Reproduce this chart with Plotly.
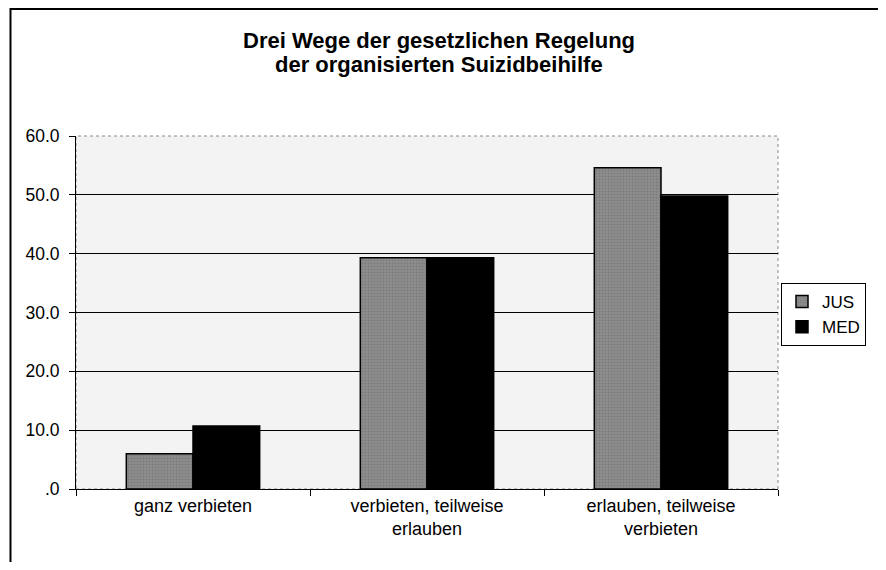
import plotly.graph_objects as go

categories = ["ganz verbieten", "verbieten, teilweise<br>erlauben", "erlauben, teilweise<br>verbieten"]
jus = [6.0, 39.3, 54.6]
med = [10.7, 39.3, 49.8]
y_ticks = [0, 10, 20, 30, 40, 50, 60]
y_labels = [".0", "10.0", "20.0", "30.0", "40.0", "50.0", "60.0"]
title_lines = ["Drei Wege der gesetzlichen Regelung", "der organisierten Suizidbeihilfe"]

# page body has an 8px margin, so the figure is drawn 8px smaller and offset
OFF = 8
W, H = 886 - 2 * OFF, 570 - 2 * OFF
L, T = 76 - OFF, 136 - OFF
pw, ph = 718, 353
R, B = W - L - pw, H - T - ph

font = "Liberation Sans, Arial, sans-serif"


def px_x(v):
    # screen px -> paper x
    return (v - OFF - L) / pw


def px_y(v):
    # screen px -> paper y
    return (H - B - (v - OFF)) / ph


fig = go.Figure()
fig.add_trace(go.Bar(x=categories, y=jus, name="JUS",
                     marker=dict(color="#8e8e8e", line=dict(color="black", width=1.5),
                                 pattern=dict(shape=".", fgcolor="#666666", size=3, solidity=0.3))))
fig.add_trace(go.Bar(x=categories, y=med, name="MED",
                     marker=dict(color="black", line=dict(color="black", width=1.5))))

# outer chart frame
fig.add_shape(type="rect", xref="paper", yref="paper",
              x0=px_x(9), x1=px_x(900), y0=px_y(590), y1=px_y(9),
              line=dict(color="black", width=2), layer="below")
# plot area border (dotted grey)
fig.add_shape(type="rect", xref="paper", yref="paper", x0=0, x1=1, y0=0, y1=1,
              line=dict(color="#888888", width=1, dash="dot"), layer="below")

for txt, ys in zip(title_lines, [40, 65]):
    fig.add_annotation(text="<b>" + txt + "</b>", xref="paper", yref="paper",
                       x=px_x(447), y=px_y(ys), xanchor="center", yanchor="middle",
                       showarrow=False, font=dict(family=font, size=22, color="black"))

fig.update_layout(
    width=W, height=H,
    margin=dict(l=L, r=R, t=T, b=B),
    paper_bgcolor="white",
    plot_bgcolor="#f3f3f3",
    barmode="group",
    bargap=0.43,
    bargroupgap=0,
    font=dict(family=font, size=18, color="black"),
    legend=dict(x=px_x(884), y=px_y(283), xanchor="right", yanchor="top",
                bordercolor="black", borderwidth=1, bgcolor="white",
                font=dict(family=font, size=17), itemwidth=30),
    xaxis=dict(showline=True, linecolor="black", linewidth=1,
               ticks="outside", tickson="boundaries", ticklen=6, tickcolor="black",
               showgrid=False, tickfont=dict(size=18)),
    yaxis=dict(range=[0, 60], tickvals=y_ticks, ticktext=y_labels,
               showline=True, linecolor="black", linewidth=1,
               ticks="outside", ticklen=6, tickcolor="black",
               showgrid=True, gridcolor="black", gridwidth=1,
               zeroline=False, ticklabelstandoff=6, tickfont=dict(size=17.5)),
)

fig.write_html("out.html")
